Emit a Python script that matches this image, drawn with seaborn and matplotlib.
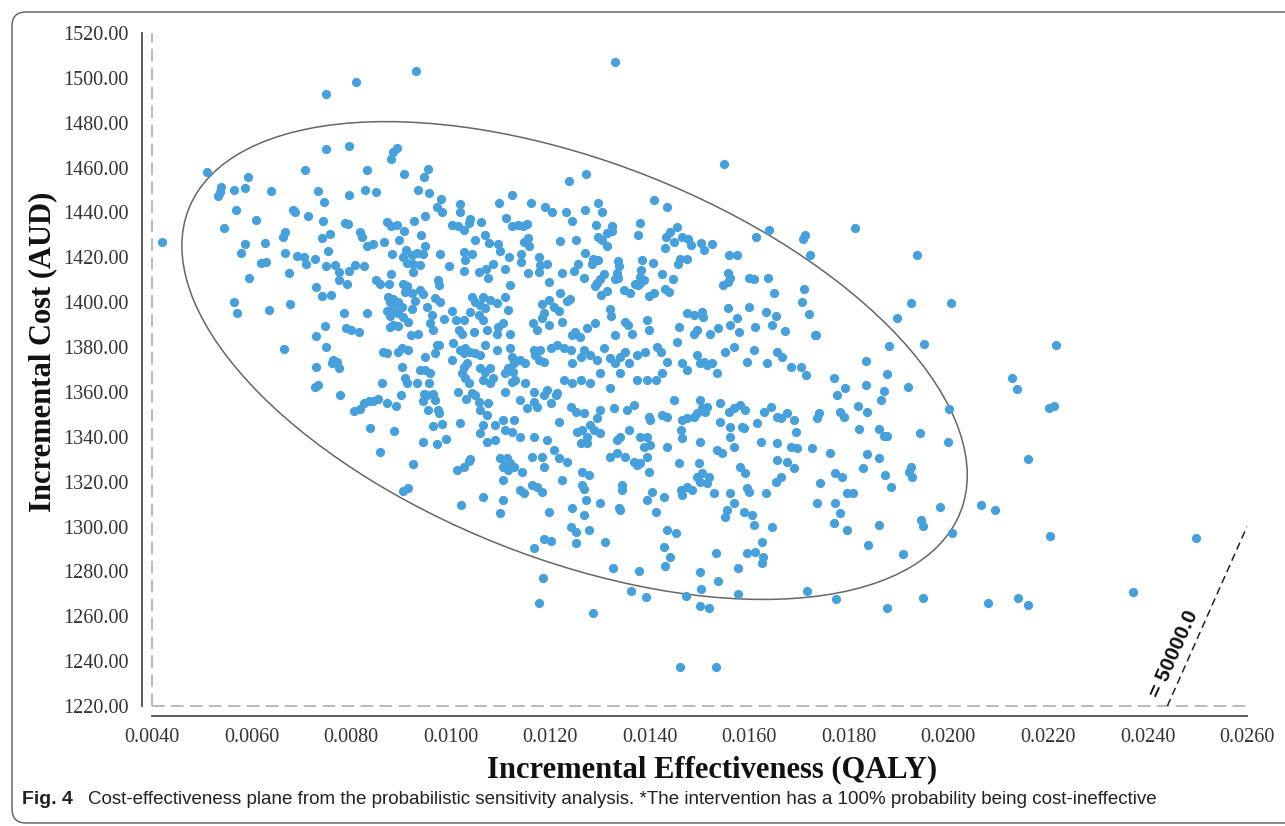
import numpy as np
import pandas as pd
import matplotlib.pyplot as plt
import matplotlib.transforms as transforms
import seaborn as sns
from matplotlib.patches import Ellipse, FancyBboxPatch

# Incremental effectiveness (QALY), incremental cost (AUD)
far_points = [
    (0.0075, 1493), (0.0081, 1498), (0.0093, 1503), (0.0133, 1507),
    (0.01936, 1421), (0.01924, 1399.5), (0.02006, 1399.5), (0.01896, 1393),
    (0.0195, 1268), (0.0208, 1266), (0.0214, 1268), (0.0216, 1265), (0.0237, 1271),
]

upper_left = [
    (0.0075, 1468.3), (0.00795, 1469.6), (0.00892, 1468.9), (0.00884, 1467), (0.0088, 1463.7),
    (0.0051, 1458), (0.00592, 1456), (0.00539, 1451.5), (0.00537, 1449), (0.00532, 1447.5),
    (0.00564, 1450), (0.00587, 1451), (0.00639, 1449.7), (0.00708, 1458.8), (0.00733, 1449.7),
    (0.00745, 1444.5), (0.00796, 1448), (0.00831, 1459), (0.00828, 1450), (0.0085, 1449),
    (0.00906, 1457), (0.00955, 1459.4), (0.00947, 1456), (0.00934, 1450), (0.00956, 1448.8),
    (0.0098, 1446), (0.00973, 1442.6), (0.00983, 1440), (0.01018, 1443.8), (0.01018, 1440),
    (0.01038, 1437), (0.01037, 1435.4), (0.0106, 1435.9), (0.01003, 1434.4), (0.01014, 1434),
    (0.01026, 1432.2), (0.01097, 1444), (0.01123, 1447.8), (0.01112, 1437.4), (0.01124, 1434),
    (0.01135, 1434.4), (0.01069, 1430), (0.01077, 1426.5), (0.01049, 1427.7), (0.01043, 1421.5),
    (0.01026, 1422.5), (0.01029, 1419), (0.01026, 1414), (0.01096, 1426), (0.011, 1423),
    (0.01118, 1420), (0.01086, 1417), (0.01071, 1415), (0.01056, 1413.6), (0.0111, 1415),
    (0.01076, 1410.6), (0.0042, 1427), (0.00545, 1433), (0.00569, 1441), (0.00609, 1436.6),
    (0.00586, 1426), (0.00578, 1422), (0.00627, 1426.5), (0.00618, 1417.6), (0.00629, 1418),
    (0.00594, 1411), (0.00565, 1400), (0.00571, 1395), (0.00635, 1396.4), (0.00677, 1399),
    (0.00667, 1431.4), (0.00664, 1429), (0.00683, 1441), (0.00687, 1440), (0.00713, 1438.3),
    (0.00744, 1436), (0.00742, 1428.6), (0.00758, 1430.5), (0.00667, 1422), (0.00676, 1413),
    (0.00691, 1420.6), (0.00705, 1420), (0.00709, 1417), (0.00728, 1419.4), (0.00753, 1423),
    (0.00749, 1416), (0.00768, 1416.6), (0.00775, 1413.6), (0.00775, 1409.7), (0.00795, 1414),
    (0.00808, 1416.6), (0.00825, 1416), (0.00791, 1408), (0.0073, 1406.6), (0.00742, 1402.8),
    (0.0076, 1403), (0.00785, 1395), (0.00747, 1389.5), (0.00729, 1385), (0.00789, 1388.5),
    (0.008, 1387.6), (0.00815, 1386.6), (0.00832, 1395.3), (0.00787, 1435.4), (0.00794, 1435),
    (0.00818, 1431.4), (0.00821, 1429), (0.00832, 1425), (0.00844, 1426), (0.00866, 1426.8),
    (0.00873, 1435.6), (0.0088, 1434), (0.00892, 1434.4), (0.00907, 1431.7), (0.00897, 1427.6),
    (0.00927, 1436), (0.00941, 1430), (0.00949, 1438.6), (0.00949, 1425), (0.0091, 1423.3),
    (0.00905, 1420), (0.00922, 1421), (0.00913, 1417.6), (0.00925, 1417), (0.00932, 1421.8),
    (0.00945, 1421.3), (0.00883, 1421.3), (0.00925, 1413.6), (0.00939, 1416.7), (0.0088, 1412.6),
    (0.00978, 1421.3), (0.00997, 1416), (0.0085, 1410), (0.00858, 1408), (0.00876, 1408),
    (0.00905, 1408), (0.00913, 1407), (0.00909, 1404.7), (0.00922, 1404), (0.00875, 1402.4),
    (0.00884, 1401.3), (0.00879, 1400), (0.00895, 1400.2), (0.00885, 1396.8), (0.00903, 1398),
    (0.00872, 1396), (0.00879, 1394), (0.00895, 1395), (0.00905, 1393.3), (0.00939, 1405.4),
    (0.00945, 1403.6), (0.00969, 1402), (0.00979, 1400), (0.00975, 1410), (0.00977, 1407.5),
    (0.00929, 1400.5), (0.00922, 1396.8), (0.00952, 1398), (0.00962, 1394.3), (0.00885, 1389.8),
    (0.00895, 1389.4), (0.00878, 1389), (0.00915, 1391.3), (0.0092, 1385.4), (0.00935, 1386),
    (0.00959, 1390.8), (0.00964, 1387.6), (0.00986, 1392.4), (0.01002, 1396.2), (0.01011, 1392),
    (0.01026, 1392), (0.01039, 1395.8), (0.01043, 1402.4), (0.01066, 1402.4), (0.0108, 1401),
    (0.01093, 1399.5), (0.01049, 1400.2), (0.01059, 1398.7), (0.01069, 1397.3), (0.01056, 1394.3),
    (0.0111, 1402.4), (0.0112, 1407.7), (0.01116, 1396.5), (0.01066, 1392), (0.01073, 1387.6),
    (0.01096, 1389), (0.01106, 1390.6), (0.01016, 1387.6), (0.01023, 1386), (0.01046, 1386.8),
    (0.01093, 1386), (0.0112, 1386),
]

upper_right = [
    (0.0155, 1461.5), (0.01238, 1454), (0.01272, 1457), (0.01812, 1433), (0.01639, 1432),
    (0.01613, 1429), (0.01711, 1430), (0.01708, 1428), (0.01722, 1421), (0.01408, 1445.5),
    (0.01434, 1442.3), (0.01161, 1444), (0.01189, 1442.6), (0.01204, 1440.3), (0.01231, 1440),
    (0.01244, 1436.3), (0.01269, 1441.2), (0.01297, 1444), (0.01304, 1440.3), (0.01292, 1434.4),
    (0.01324, 1434), (0.01324, 1431.7), (0.01297, 1429), (0.01304, 1427.7), (0.01314, 1430.7),
    (0.01314, 1425), (0.01381, 1435.4), (0.01376, 1430), (0.0122, 1427.3), (0.01252, 1427.6),
    (0.01145, 1434), (0.01153, 1434.8), (0.01148, 1427), (0.01156, 1428.7), (0.01158, 1425.2),
    (0.01141, 1421.5), (0.01141, 1418), (0.01178, 1420), (0.0118, 1416.6), (0.01178, 1413.6),
    (0.01193, 1417), (0.01155, 1413), (0.01269, 1422), (0.01256, 1417), (0.01248, 1414),
    (0.01223, 1413), (0.01284, 1417), (0.01297, 1419), (0.01287, 1419.2), (0.01337, 1418.5),
    (0.01339, 1416), (0.01334, 1413), (0.01337, 1410.6), (0.01331, 1410.2), (0.01308, 1412.4),
    (0.01301, 1410.2), (0.01294, 1408.4), (0.01291, 1407), (0.01268, 1410.6), (0.01197, 1409),
    (0.01384, 1418.8), (0.01406, 1417.6), (0.01382, 1414.4), (0.01381, 1411.4), (0.0138, 1408.7),
    (0.01388, 1410), (0.0137, 1408), (0.01376, 1407.7), (0.01433, 1429.2), (0.01441, 1431.4),
    (0.01455, 1433.6), (0.01431, 1424), (0.01448, 1427), (0.01464, 1429.2), (0.01476, 1428),
    (0.01483, 1425.5), (0.01503, 1426.2), (0.0151, 1423.3), (0.01525, 1426), (0.01461, 1419.2),
    (0.01475, 1419.2), (0.01457, 1417), (0.01425, 1412.6), (0.01446, 1410.3), (0.0143, 1406),
    (0.01438, 1404.7), (0.01408, 1404), (0.01399, 1402.9), (0.01348, 1405.4), (0.0136, 1404.2),
    (0.01314, 1405), (0.01302, 1403), (0.0124, 1401.4), (0.01233, 1400.5), (0.01219, 1404),
    (0.01197, 1401), (0.01183, 1399), (0.01207, 1398), (0.01187, 1395), (0.01217, 1396),
    (0.01183, 1393), (0.01223, 1391.3), (0.01197, 1389.8), (0.01166, 1390.9), (0.01173, 1387.6),
    (0.0125, 1386.8), (0.01244, 1385.4), (0.0126, 1384.6), (0.01274, 1388.4), (0.01291, 1390.9),
    (0.0132, 1396.8), (0.01322, 1393.8), (0.01351, 1391.3), (0.01357, 1389.8), (0.01331, 1385.4),
    (0.01364, 1386), (0.01394, 1392), (0.01399, 1387.6), (0.01458, 1389), (0.01475, 1395),
    (0.01488, 1394.3), (0.01505, 1395.8), (0.01508, 1393.5), (0.01495, 1387.6), (0.01488, 1386),
    (0.01522, 1386), (0.01538, 1388.4), (0.01558, 1397.3), (0.01576, 1392.8), (0.01562, 1389.8),
    (0.0158, 1386.8), (0.01558, 1412.9), (0.01562, 1410.6), (0.01547, 1407.7), (0.01557, 1409),
    (0.0156, 1421), (0.01576, 1421), (0.01599, 1410.6), (0.01609, 1410.3), (0.01638, 1411),
    (0.01649, 1404.2), (0.01599, 1397.7), (0.01612, 1389), (0.01633, 1395.8), (0.01654, 1393.8),
    (0.01645, 1390), (0.01672, 1387), (0.01709, 1406), (0.01705, 1400), (0.01721, 1394.6),
    (0.01735, 1385.4),
]

lower_left = [
    (0.00665, 1379), (0.00749, 1380), (0.0073, 1371.2), (0.00728, 1362), (0.00734, 1363),
    (0.00764, 1374.2), (0.00771, 1373.5), (0.00776, 1370.8), (0.00761, 1372.8), (0.00778, 1358.6),
    (0.00865, 1378), (0.00873, 1377.2), (0.00895, 1378), (0.00903, 1379.4), (0.00914, 1378.7),
    (0.00903, 1371), (0.00909, 1366), (0.00912, 1363.8), (0.009, 1358.6), (0.00863, 1364),
    (0.00825, 1355.2), (0.00835, 1356), (0.00845, 1356), (0.00855, 1357), (0.00806, 1351.6),
    (0.00817, 1352.2), (0.00873, 1355), (0.0089, 1353.7), (0.00837, 1343.8), (0.00886, 1342.7),
    (0.00858, 1333.4), (0.00924, 1327.8), (0.00905, 1316), (0.00915, 1317), (0.00949, 1375.7),
    (0.00939, 1369.8), (0.00949, 1370), (0.00959, 1368.6), (0.00956, 1364), (0.00933, 1363.8),
    (0.00947, 1359), (0.00953, 1358.5), (0.00965, 1359), (0.00969, 1356.4), (0.00945, 1356),
    (0.00954, 1352), (0.00975, 1352), (0.00977, 1350.5), (0.00964, 1345), (0.00982, 1345.7),
    (0.00945, 1337.5), (0.00972, 1337), (0.0099, 1338.9), (0.00972, 1381), (0.00977, 1381),
    (0.00969, 1377.2), (0.01004, 1382), (0.01002, 1374.2), (0.01019, 1346), (0.01012, 1325),
    (0.01027, 1326.7), (0.01036, 1329), (0.01039, 1330), (0.0102, 1309.6), (0.01066, 1313.3),
    (0.01106, 1312), (0.011, 1305.9), (0.01106, 1320.7), (0.011, 1330.4), (0.0111, 1328.9),
    (0.01113, 1330.4), (0.0112, 1328.2), (0.01116, 1325.2), (0.01106, 1326.7), (0.01015, 1360),
    (0.01031, 1357), (0.01043, 1359.4), (0.01049, 1358.6), (0.01036, 1363.8), (0.01029, 1366),
    (0.01023, 1368.3), (0.01026, 1371.2), (0.01033, 1372.8), (0.01019, 1378.7), (0.01026, 1377.2),
    (0.01039, 1378), (0.01049, 1377.2), (0.01059, 1376.5), (0.01029, 1379.4), (0.01069, 1381),
    (0.01093, 1378.7), (0.0112, 1379.4), (0.01123, 1375.7), (0.01059, 1370.5), (0.01069, 1369),
    (0.01079, 1370.5), (0.01066, 1365.3), (0.01079, 1363.8), (0.01086, 1366), (0.0111, 1368.3),
    (0.01116, 1370.5), (0.01126, 1369), (0.01123, 1364.6), (0.0111, 1360), (0.01056, 1355.7),
    (0.01059, 1352), (0.01073, 1349.7), (0.01076, 1355.2), (0.01089, 1345.3), (0.01106, 1347.5),
    (0.0111, 1343), (0.01123, 1342.3), (0.01066, 1345.3), (0.01059, 1341.5), (0.01073, 1337.8),
    (0.01089, 1338.6),
]

lower_middle = [
    (0.01127, 1372.7), (0.0114, 1374.2), (0.0115, 1372.7), (0.01167, 1378.7), (0.0117, 1376.5),
    (0.01177, 1374.2), (0.01187, 1373.5), (0.0118, 1378.7), (0.01201, 1379.4), (0.01214, 1380.9),
    (0.01227, 1379.4), (0.01244, 1372.7), (0.01241, 1378.7), (0.01261, 1375.7), (0.01268, 1378.7),
    (0.01281, 1376.5), (0.01294, 1374.2), (0.01308, 1379.4), (0.01321, 1375), (0.01331, 1372.7),
    (0.01341, 1375.7), (0.01351, 1377.9), (0.01358, 1372.7), (0.01375, 1376.5), (0.01391, 1377.9),
    (0.01415, 1380.2), (0.01422, 1377.9), (0.01435, 1373.5), (0.01455, 1382.4), (0.01465, 1372.7),
    (0.01475, 1369.8), (0.01495, 1376.5), (0.01502, 1372.7), (0.01509, 1373.5), (0.01515, 1372),
    (0.01525, 1372.7), (0.01536, 1368.3), (0.01552, 1377.9), (0.01569, 1380.2), (0.01596, 1373.5),
    (0.01609, 1378.7), (0.01636, 1372.7), (0.01656, 1377.9), (0.01666, 1375.7), (0.01683, 1371.3),
    (0.01703, 1371.3), (0.01713, 1367.5), (0.01733, 1385.4), (0.0177, 1366.1), (0.01793, 1361.6),
    (0.01425, 1368.3), (0.01412, 1365.3), (0.01395, 1365.3), (0.01375, 1365.3), (0.01341, 1368.3),
    (0.01301, 1368.3), (0.01321, 1361.6), (0.01281, 1363.8), (0.01261, 1365.3), (0.01244, 1363.8),
    (0.01227, 1365.3), (0.01214, 1359.4), (0.01194, 1360.9), (0.01187, 1358.6), (0.01167, 1360.1),
    (0.0115, 1363.8), (0.0113, 1365.3), (0.0114, 1356.4), (0.01167, 1355.7), (0.01127, 1347.5),
    (0.01154, 1352.7), (0.01174, 1353.4), (0.01201, 1354.9), (0.01211, 1358.6), (0.01241, 1353.4),
    (0.01251, 1351.2), (0.01268, 1350.4), (0.01294, 1348.2), (0.01301, 1351.9), (0.01328, 1352.7),
    (0.01355, 1351.9), (0.01368, 1354.2), (0.01398, 1349), (0.01401, 1347.5), (0.01425, 1349.7),
    (0.01435, 1349), (0.01448, 1356.4), (0.01465, 1347.5), (0.01475, 1348.2), (0.01489, 1349),
    (0.01495, 1350.4), (0.01502, 1356.4), (0.01505, 1352.7), (0.01515, 1353.4), (0.01512, 1351.2),
    (0.01542, 1354.9), (0.01559, 1351.2), (0.01569, 1352.7), (0.01582, 1354.2), (0.01592, 1351.9),
    (0.01542, 1346.7), (0.01562, 1344.5), (0.01589, 1343.8), (0.01616, 1346), (0.01629, 1351.2),
    (0.01643, 1353.4), (0.01656, 1349), (0.01663, 1348.2), (0.01676, 1350.4), (0.0169, 1347.5),
    (0.01693, 1342.3), (0.0174, 1350.4), (0.01736, 1348.2), (0.01783, 1351.2), (0.0179, 1349),
    (0.01777, 1358.6), (0.0114, 1340), (0.01167, 1340), (0.01194, 1338.6), (0.01217, 1346.7),
    (0.01254, 1342.3), (0.01264, 1343), (0.01274, 1340), (0.01281, 1345.2), (0.01288, 1343),
    (0.01301, 1341.5), (0.01261, 1337.1), (0.01274, 1337.1), (0.01335, 1338.6), (0.01341, 1340),
    (0.01358, 1343), (0.01381, 1340), (0.01395, 1340), (0.01388, 1335.6), (0.01401, 1336.3),
    (0.01435, 1335.6), (0.01462, 1343), (0.01465, 1339.3), (0.01502, 1337.8), (0.01562, 1340),
    (0.01586, 1344.5), (0.01623, 1337.8), (0.01656, 1337.1), (0.01683, 1335.6), (0.01696, 1334.8),
    (0.01726, 1334.8), (0.01763, 1332.6), (0.01127, 1326.7), (0.01144, 1324.4), (0.01164, 1331.1),
    (0.01184, 1331.1), (0.01187, 1326.7), (0.01207, 1334.1), (0.01217, 1330.4), (0.01234, 1328.9),
    (0.01224, 1320.7), (0.01174, 1317.8), (0.01164, 1318.5), (0.0114, 1316.3), (0.01147, 1314.8),
    (0.01184, 1315.5), (0.01197, 1306.6), (0.01244, 1308.1), (0.01264, 1324.4), (0.01264, 1318.5),
    (0.01268, 1316.6), (0.01271, 1311.8), (0.01278, 1323), (0.01301, 1310.6), (0.01268, 1305.1),
    (0.01241, 1299.9), (0.01251, 1297.7), (0.01278, 1298.4), (0.01251, 1292.8), (0.01311, 1293.2),
    (0.01187, 1294.3), (0.01201, 1293.7), (0.01167, 1290.3), (0.01321, 1331.1), (0.01335, 1332.6),
    (0.01351, 1331.1), (0.01368, 1328.9), (0.01375, 1327.4), (0.01381, 1328.2), (0.01398, 1324.4),
    (0.01395, 1331.1), (0.01345, 1318.5), (0.01345, 1316.3), (0.01395, 1311.8), (0.01405, 1315.5),
    (0.01412, 1306.6), (0.01428, 1313.3), (0.01338, 1308.1), (0.01341, 1307.4), (0.01435, 1298.4),
    (0.01452, 1296.9), (0.01428, 1291), (0.01462, 1316.3), (0.01475, 1317.8), (0.01485, 1316.3),
    (0.01465, 1314), (0.01458, 1328.2), (0.01499, 1328.2), (0.01505, 1323.7), (0.01519, 1322.2),
    (0.01495, 1322.2), (0.01502, 1320), (0.01515, 1319.2), (0.01529, 1314.8), (0.01536, 1334.1),
    (0.01546, 1332.6), (0.01569, 1335.6), (0.01582, 1326.7), (0.01592, 1323.7), (0.01596, 1317),
    (0.01599, 1315.5), (0.01562, 1314.8), (0.01569, 1310.3), (0.01556, 1307.4), (0.01552, 1304.4),
    (0.01589, 1306.6), (0.01606, 1305.1), (0.01609, 1300.7), (0.01633, 1314.8), (0.01646, 1299.9),
    (0.01626, 1293.2), (0.01656, 1329.6), (0.01663, 1322.2), (0.01653, 1320), (0.01676, 1328.9),
    (0.0169, 1325.9), (0.01743, 1319.2), (0.01736, 1310.3), (0.01773, 1323.7), (0.01787, 1322.2),
    (0.01797, 1314.8), (0.01773, 1310.3), (0.01783, 1305.9), (0.0177, 1301.4), (0.01797, 1298.4),
]

lower_right = [
    (0.01881, 1380.6), (0.01952, 1381.4), (0.02216, 1380.9), (0.01834, 1373.9), (0.01877, 1368),
    (0.01835, 1363.1), (0.01871, 1360.3), (0.01918, 1362.2), (0.01864, 1356.4), (0.01818, 1353.7),
    (0.01837, 1351.2), (0.02001, 1352.4), (0.02128, 1366.3), (0.02137, 1361.4), (0.02202, 1352.8),
    (0.02212, 1353.7), (0.01821, 1343.5), (0.01861, 1343.3), (0.0187, 1340.3), (0.01877, 1340.3),
    (0.01944, 1341.8), (0.02, 1337.7), (0.02159, 1330.2), (0.01837, 1332.5), (0.0186, 1330.4),
    (0.01828, 1326.2), (0.01873, 1323.1), (0.01924, 1326.7), (0.0192, 1324.4), (0.01927, 1321.9),
    (0.01885, 1317.5), (0.01808, 1314.8), (0.01983, 1308.9), (0.02065, 1309.6), (0.02094, 1307.4),
    (0.01861, 1300.8), (0.01945, 1302.9), (0.0195, 1300.2), (0.02007, 1297), (0.02204, 1295.6),
    (0.02498, 1294.7), (0.01838, 1291.8), (0.01909, 1287.9),
]

bottom_points = [
    (0.01185, 1277.2), (0.01178, 1266), (0.01286, 1261.6), (0.01327, 1281.3), (0.01378, 1280.1),
    (0.01362, 1271.4), (0.01393, 1268.5), (0.0143, 1282.2), (0.01441, 1286.5), (0.0146, 1237.6),
    (0.01534, 1237.3), (0.015, 1279.8), (0.01503, 1272), (0.01473, 1269.1), (0.01501, 1264.7),
    (0.01519, 1263.6), (0.01538, 1275.7), (0.01534, 1288.3), (0.01578, 1281.3), (0.01577, 1269.9),
    (0.01595, 1288), (0.01612, 1288.8), (0.01627, 1286.5), (0.01625, 1283.6), (0.01715, 1271.4),
    (0.01775, 1267.7), (0.01877, 1263.8),
]

# confidence ellipse: centre, half extents, correlation
ellipse_center = (0.01249, 1374.0)
ellipse_half_span = (0.00789, 106.5)
ellipse_rho = -0.48

wtp = 50000.0
x_ticks = np.arange(0.004, 0.02601, 0.002)
y_ticks = np.arange(1220, 1521, 20)

DOT = '#45a0dc'
GRID_GREY = '#b4b4b4'


def draw_ellipse(ax, center, half_span, rho, **kwargs):
    # ellipse de correlation: cercle unite tourne puis mis a l'echelle
    ell = Ellipse((0, 0), width=2 * np.sqrt(1 + rho), height=2 * np.sqrt(1 - rho),
                  facecolor='none', **kwargs)
    tr = (transforms.Affine2D().rotate_deg(45)
          .scale(half_span[0], half_span[1]).translate(center[0], center[1]))
    ell.set_transform(tr + ax.transData)
    return ax.add_patch(ell)


pts = far_points + upper_left + upper_right + lower_left + lower_middle + lower_right + bottom_points
df = pd.DataFrame(pts, columns=['effect', 'cost'])

sns.set_theme(style='white')
plt.rcParams['font.family'] = ['Liberation Serif', 'DejaVu Serif']

fig = plt.figure(figsize=(12.85, 8.26), dpi=100)
ax = fig.add_axes([152 / 1285, 1 - 706 / 826, 1095 / 1285, 673 / 826])

sns.scatterplot(data=df, x='effect', y='cost', color=DOT, s=44, linewidth=0, ax=ax, zorder=3)
draw_ellipse(ax, ellipse_center, ellipse_half_span, ellipse_rho,
             edgecolor='#666666', linewidth=1.1, zorder=2)

# plan de reference en pointilles
ax.axvline(x_ticks[0], color=GRID_GREY, linestyle=(0, (7, 3.5)), linewidth=1.3, clip_on=False, zorder=1)
ax.axhline(y_ticks[0], color=GRID_GREY, linestyle=(0, (7, 3.5)), linewidth=1.3, clip_on=False, zorder=1)

# droite du seuil de disposition a payer
wx = np.array([y_ticks[0] / wtp, x_ticks[-1]])
ax.plot(wx, wx * wtp, color='#222222', linestyle=(0, (5, 3)), linewidth=1.1, zorder=2)
ax.text(0.02453, 1243, '= 50000.0', rotation=66, rotation_mode='anchor', ha='center', va='center',
        fontsize=15, fontweight='bold', family=['Liberation Sans', 'DejaVu Sans'], color='#111111')

ax.set_xlim(x_ticks[0], x_ticks[-1])
ax.set_ylim(y_ticks[0], y_ticks[-1])
ax.set_xticks(x_ticks)
ax.set_yticks(y_ticks)
ax.set_xticklabels([f'{v:.4f}' for v in x_ticks])
ax.set_yticklabels([f'{v:.2f}' for v in y_ticks])

for side in ['top', 'right']:
    ax.spines[side].set_visible(False)
for side in ['left', 'bottom']:
    ax.spines[side].set_position(('outward', 7.2))
    ax.spines[side].set_color('#4d4d4d')
    ax.spines[side].set_linewidth(1.3)

ax.tick_params(axis='x', direction='in', length=7, width=1, color=GRID_GREY, pad=9,
               labelsize=14.5, labelcolor='#333333')
ax.tick_params(axis='y', direction='out', length=6, width=1, color=GRID_GREY, pad=3.5,
               labelsize=14.5, labelcolor='#333333')

ax.set_xlabel('Incremental Effectiveness (QALY)', fontsize=22, fontweight='bold', color='#111111')
ax.set_ylabel('Incremental Cost (AUD)', fontsize=22, fontweight='bold', color='#111111')
ax.xaxis.set_label_coords((712 - 152) / 1095, (706 - 755) / 673)
ax.yaxis.set_label_coords((57 - 152) / 1095, (706 - 352) / 673)

# cadre arrondi et legende de la figure
frame = FancyBboxPatch((12, 3), 1320, 811, boxstyle='round,pad=0,rounding_size=14',
                       transform=None, fill=False, edgecolor='#5a5a5a', linewidth=1.0)
fig.add_artist(frame)
cap_font = ['Liberation Sans Narrow', 'Liberation Sans', 'DejaVu Sans']
fig.text(22 / 1285, 1 - 800 / 826, 'Fig. 4', fontsize=14, fontweight='bold', family=cap_font,
         color='#222222', va='center')
fig.text(88 / 1285, 1 - 800 / 826,
         'Cost-effectiveness plane from the probabilistic sensitivity analysis. '
         '*The intervention has a 100% probability being cost-ineffective',
         fontsize=13.5, family=cap_font, color='#222222', va='center')

fig.savefig('out.png', dpi=100)
